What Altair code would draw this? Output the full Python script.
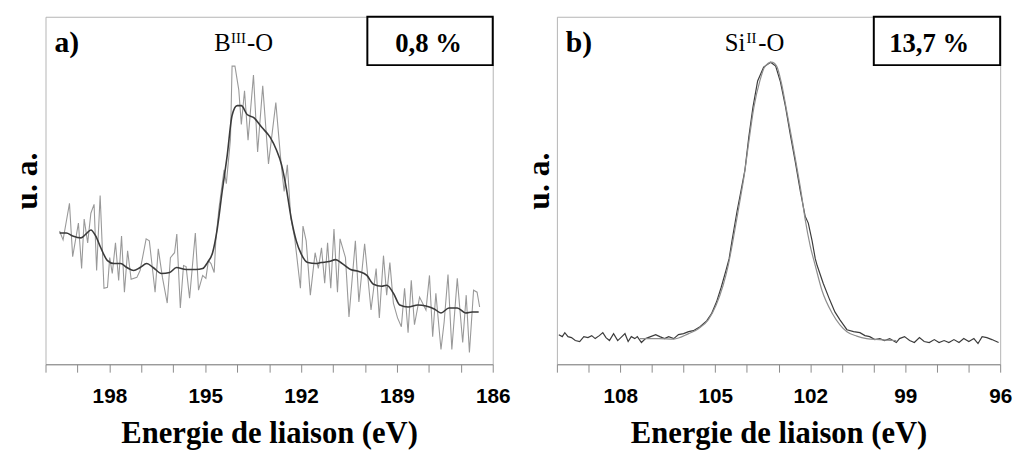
import altair as alt
import pandas as pd

# ---------------- data (binding energy eV, intensity a.u.) ----------------
# Panel a) B 1s : raw spectrum (light) and smoothed envelope (dark)
a_raw = [(199.56,135),(199.45,126),(199.25,163),(199.15,109),(198.97,143),(198.87,97),(198.79,147),
         (198.68,123),(198.58,153),(198.48,162),(198.40,95),(198.29,171),(198.17,77),(198.06,78),
         (197.99,108),(197.91,92),(197.81,123),(197.71,85),(197.62,130),(197.53,73),(197.43,115),
         (197.32,86),(197.14,88),(197.04,95),(196.85,127),(196.75,125),(196.57,73),(196.47,117),
         (196.34,88),(196.19,62),(196.09,108),(195.96,113),(195.89,132),(195.78,57),(195.68,100),
         (195.60,99),(195.49,67),(195.31,133),(195.21,75),(195.08,90),(194.98,87),(194.90,105),
         (194.82,102),(194.72,93),(194.67,125),(194.57,158),(194.41,197),(194.34,183),(194.21,228),
         (194.16,302),(194.07,302),(193.95,278),(193.87,243),(193.77,277),(193.66,227),(193.49,293),
         (193.36,215),(193.20,282),(193.02,203),(192.79,265),(192.63,205),(192.53,175),(192.43,202),
         (192.32,148),(192.20,128),(192.02,77),(191.94,140),(191.84,125),(191.71,70),(191.56,113),
         (191.46,97),(191.36,118),(191.26,82),(191.17,123),(191.07,77),(190.97,137),(190.86,73),
         (190.78,127),(190.61,108),(190.50,48),(190.30,125),(190.19,63),(190.01,122),(189.81,55),
         (189.65,97),(189.55,47),(189.42,110),(189.32,70),(189.22,103),(189.11,62),(188.98,47),
         (188.86,38),(188.76,77),(188.65,32),(188.55,85),(188.45,40),(188.29,68),(188.09,55),
         (187.98,90),(187.88,28),(187.78,72),(187.62,15),(187.52,43),(187.40,91),(187.28,15),
         (187.11,87),(186.94,22),(186.83,70),(186.73,12),(186.60,75),(186.49,73),(186.41,58)]

a_smooth = [(199.56,133),(199.35,133),(199.15,130),(198.89,128),(198.73,132),(198.58,136),(198.43,130),
            (198.27,118),(198.06,105),(197.86,102),(197.65,102),(197.45,98),(197.24,95),(197.04,98),
            (196.83,102),(196.63,98),(196.37,92),(196.11,93),(195.90,98),(195.60,96),(195.29,96),
            (195.08,97),(194.93,103),(194.77,113),(194.62,138),(194.47,175),(194.31,212),(194.16,252),
            (194.00,262),(193.87,262),(193.69,253),(193.49,250),(193.23,240),(192.97,230),(192.77,217),
            (192.61,202),(192.46,178),(192.31,148),(192.15,125),(192.00,112),(191.79,103),(191.53,102),
            (191.38,103),(191.12,104),(190.92,106),(190.71,102),(190.45,96),(190.19,94),(189.94,90),
            (189.73,81),(189.48,79),(189.32,80),(189.11,72),(188.91,60),(188.65,58),(188.34,60),
            (188.09,59),(187.83,56),(187.62,52),(187.37,57),(187.11,57),(186.85,52),(186.64,53),(186.44,53)]

# Panel b) Si 2p : raw spectrum (dark) and fitted component (light)
b_raw = [(109.94,30),(109.83,28),(109.75,32),(109.65,28),(109.54,27),(109.42,24),(109.28,23),(109.15,28),
         (109.02,27),(108.90,29),(108.79,26),(108.66,29),(108.55,32),(108.45,27),(108.34,24),(108.21,31),
         (108.08,24),(107.98,27),(107.85,31),(107.75,23),(107.65,28),(107.54,26),(107.46,28),(107.33,22),
         (107.20,26),(107.04,28),(106.88,30),(106.75,28),(106.60,26),(106.47,28),(106.31,26),(106.16,30),
         (106.00,31),(105.84,33),(105.69,34),(105.48,38),(105.27,44),(105.12,51),(104.96,63),(104.81,78),
         (104.66,95),(104.56,107),(104.47,125),(104.31,155),(104.19,175),(104.06,197),(103.94,230),
         (103.81,260),(103.66,287),(103.47,301),(103.25,306),(103.09,302),(102.94,286),(102.78,261),
         (102.63,233),(102.47,205),(102.31,175),(102.16,150),(102.06,143),(101.94,125),(101.84,107),
         (101.78,100),(101.59,82),(101.38,65),(101.22,53),(101.06,45),(100.84,35),(100.63,33),(100.43,32),
         (100.27,29),(100.12,28),(99.96,25),(99.80,26),(99.65,24),(99.49,26),(99.28,22),(99.18,26),
         (99.02,28),(98.86,24),(98.71,22),(98.55,27),(98.40,23),(98.24,22),(98.08,25),(97.93,22),
         (97.77,24),(97.62,22),(97.46,25),(97.30,22),(97.15,26),(96.99,23),(96.83,26),(96.70,21),
         (96.57,28),(96.42,27),(96.26,25),(96.05,22)]

b_fit = [(107.38,26),(106.78,26),(106.31,25.5),(105.84,31),(105.53,36),(105.22,45),(104.97,60),(104.75,80),
         (104.59,100),(104.44,125),(104.25,160),(104.09,190),(103.94,225),(103.78,260),(103.59,287),
         (103.44,301),(103.22,306),(103.06,302),(102.91,285),(102.75,258),(102.59,230),(102.44,203),
         (102.28,173),(102.16,147),(102.00,120),(101.84,100),(101.63,75),(101.31,52),(101.06,40),
         (100.84,33),(100.53,28.5),(100.22,26),(99.81,25),(99.28,24)]

a_ticks = list(range(186, 201))
b_ticks = list(range(96, 111))

SERIF = "Liberation Serif"
SANS = "Liberation Sans"
one = pd.DataFrame({"k": [0]})


def txt(text, x, y, size, weight="normal", align="left"):
    return alt.Chart(one).mark_text(
        font=SERIF, fontSize=size, fontWeight=weight, align=align, baseline="alphabetic", color="black"
    ).encode(x=alt.value(x), y=alt.value(y), text=alt.value(text))


def panel(raw, smooth, domain, ticks, raw_style, smooth_style, letter, elem, sup, pct,
          width, box_x, pct_x, elem_x, sup_x, suffix_x):
    raw_df = pd.DataFrame(raw, columns=["ev", "int"])
    sm_df = pd.DataFrame(smooth, columns=["ev", "int"])
    xs = alt.Scale(domain=domain, reverse=True, nice=False, zero=False)
    ys = alt.Scale(domain=[0, 352], nice=False, zero=False)
    X = alt.X("ev:Q", scale=xs, axis=alt.Axis(
        values=ticks, labelExpr="datum.value % 3 == 0 ? datum.label : ''",
        title="Energie de liaison (eV)", grid=False, labelFlush=False, labelOverlap=False))
    Y = alt.Y("int:Q", scale=ys, axis=alt.Axis(
        labels=False, ticks=False, domain=False, grid=False, title="u. a.", titleY=166))
    l_raw = alt.Chart(raw_df).mark_line(**raw_style).encode(x=X, y=Y)
    l_sm = alt.Chart(sm_df).mark_line(interpolate="monotone", **smooth_style).encode(x=X, y=Y)
    box = alt.Chart(one).mark_rect(fill="white", stroke="black", strokeWidth=2).encode(
        x=alt.value(box_x), x2=alt.value(width), y=alt.value(0), y2=alt.value(49))
    return alt.layer(
        l_raw, l_sm, box,
        txt(pct, pct_x, 36, 27, "bold", "center"),
        txt(letter, 9, 36, 30, "bold"),
        txt(elem, elem_x, 35, 25),
        txt(sup, sup_x, 27, 15),
        txt("-O", suffix_x, 35, 25),
    ).properties(width=width, height=352)


left = panel(a_raw, a_smooth, [186, 200], a_ticks,
             dict(color="#999999", strokeWidth=1.1), dict(color="#3a3a3a", strokeWidth=1.6),
             "a)", "B", "III", "0,8 %", 453, 326, 388, 171, 188, 204)
right = panel(b_raw, b_fit, [96, 110], b_ticks,
              dict(color="#3c3c3c", strokeWidth=1.2), dict(color="#8e8e8e", strokeWidth=1.2),
              "b)", "Si", "II", "13,7 %", 449, 321, 377, 170, 192, 204)

chart = alt.hconcat(left, right, spacing=10).properties(
    padding={"left": 2, "top": 4, "right": 0, "bottom": 0}
).configure_view(stroke="#b4b4b4", strokeWidth=1).configure_axis(
    labelFont=SANS, labelFontSize=21, labelFontWeight="bold", labelColor="black", labelPadding=14,
    titleFont=SERIF, titleFontWeight="bold", titleColor="black",
    tickColor="#8a8a8a", domainColor="#8a8a8a", tickSize=8, tickWidth=1
).configure_axisY(titlePadding=2, titleFontSize=32).configure_axisX(titlePadding=12, titleFontSize=31)

chart.save("out.html", embed_options={"renderer": "svg", "actions": False})
